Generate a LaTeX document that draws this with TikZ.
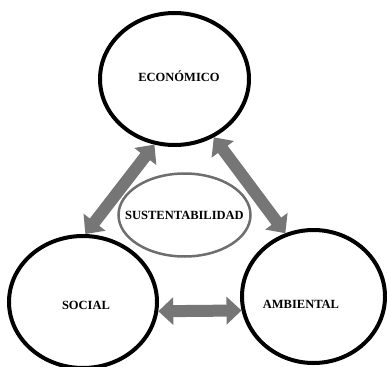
\documentclass[tikz,border=0pt]{standalone}
\usepackage{fontspec}
\setmainfont{Liberation Serif}
\usepackage{tikz}
\usetikzlibrary{shapes.geometric,arrows.meta}
\definecolor{linkgray}{HTML}{767676}
\definecolor{coregray}{HTML}{6E6E6E}
\tikzstyle{triad_style}=[
	x=1pt,y=-1pt,
	pillar/.style={ellipse,draw=black,line width=4pt,fill=white,inner sep=0pt},
	core/.style={ellipse,draw=coregray,line width=2.5pt,fill=white,inner xsep=-20pt,inner ysep=0pt,font=\bfseries\fontsize{12.5}{14}\selectfont},
	pillar_text/.style={font=\bfseries\fontsize{12.5}{14}\selectfont},
	link/.style={draw=linkgray,line width=12pt,{Triangle[width=27pt,length=15pt]}-{Triangle[width=27pt,length=15pt]}}
]

\begin{document}
\begin{tikzpicture}[triad_style]
	\useasboundingbox (0,0) rectangle (387,366);
	
	%dimensions
	\node[pillar,minimum width=149pt,minimum height=132pt] (eco) at (174.5,79) {};
	\node[pillar_text] (eco_l) at (179,76) {ECON\'OMICO};
	
	\node[pillar,minimum width=148pt,minimum height=132pt] (soc) at (83,302) {};
	\node[pillar_text] (soc_l) at (86,305) {SOCIAL};
	
	\node[pillar,minimum width=143pt,minimum height=133pt] (amb) at (313.5,296.5) {};
	\node[pillar_text] (amb_l) at (301,304) {AMBIENTAL};
	
	%centre
	\node[core,minimum width=132pt,minimum height=83pt] (sus) at (184.5,215) {SUSTENTABILIDAD};
	
	%relations
	\path (eco.253.5) edge [link] (soc.88)
	(eco.304) edge [link] (amb.114)
	(soc.-7) edge [link] (amb.191.5);
	
\end{tikzpicture}
\end{document}
